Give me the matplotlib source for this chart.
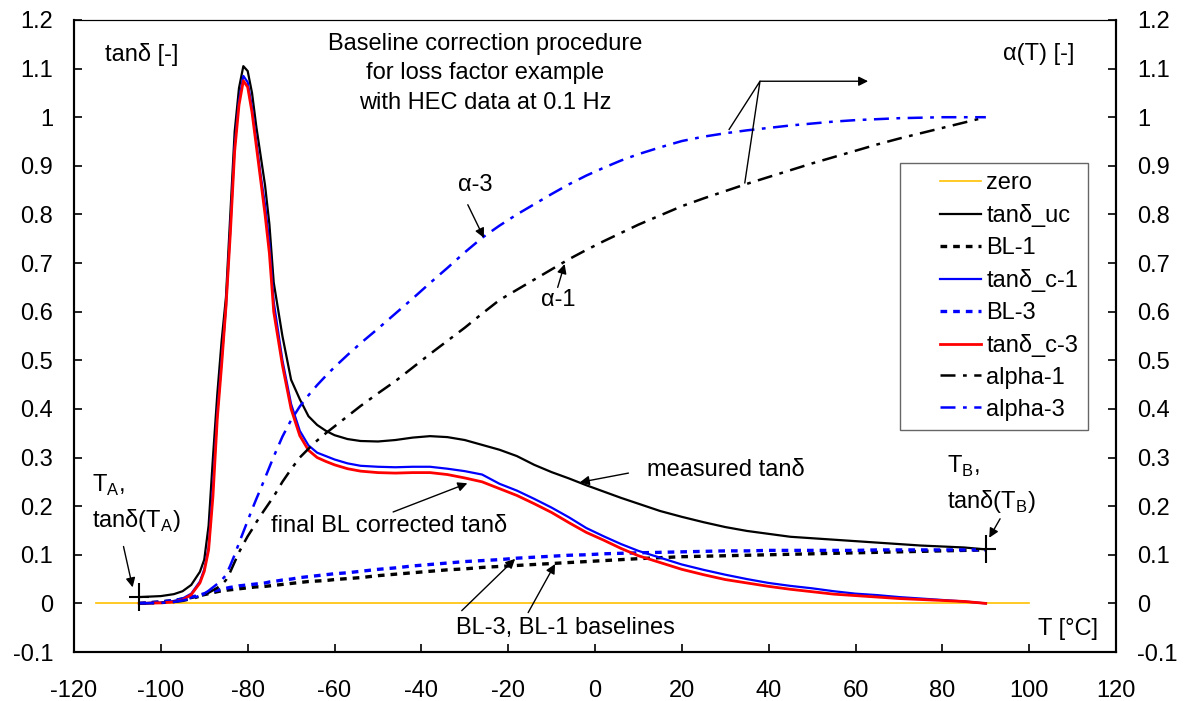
import numpy as np
import matplotlib.pyplot as plt
from matplotlib.lines import Line2D
from matplotlib.legend_handler import HandlerLine2D
from matplotlib.ticker import MultipleLocator, FuncFormatter

plt.rcParams['font.family'] = ['Liberation Sans', 'DejaVu Sans']
plt.rcParams['axes.unicode_minus'] = False
FS = 17

# temperature grid [°C]
T = [-105, -100, -97, -95, -93, -91, -90, -89, -88, -87, -86, -85, -84, -83,
     -82, -81, -80, -79, -78, -77, -76, -75, -74, -72, -70, -68, -66, -64,
     -62, -60, -57, -54, -50, -46, -42, -38, -34, -30, -26, -22, -18, -14,
     -10, -6, -2, 2, 6, 10, 15, 20, 25, 30, 35, 40, 45, 50, 55, 60, 65, 70,
     75, 80, 85, 90]

# uncorrected loss factor
tand_uc = [0.013, 0.015, 0.019, 0.025, 0.038, 0.065, 0.09, 0.16, 0.30, 0.43,
           0.54, 0.63, 0.80, 0.97, 1.06, 1.105, 1.095, 1.05, 0.98, 0.92, 0.86,
           0.78, 0.66, 0.55, 0.46, 0.42, 0.385, 0.367, 0.355, 0.346, 0.338,
           0.334, 0.333, 0.336, 0.341, 0.344, 0.342, 0.336, 0.326, 0.316,
           0.303, 0.285, 0.270, 0.257, 0.243, 0.230, 0.217, 0.205, 0.190,
           0.178, 0.167, 0.157, 0.149, 0.143, 0.137, 0.134, 0.131, 0.128,
           0.125, 0.122, 0.119, 0.117, 0.115, 0.111]

# baselines
bl_1 = [0.0, 0.003, 0.006, 0.009, 0.012, 0.016, 0.018, 0.020, 0.022, 0.024,
        0.026, 0.027, 0.028, 0.029, 0.030, 0.031, 0.032, 0.033, 0.034, 0.034,
        0.035, 0.036, 0.037, 0.039, 0.041, 0.043, 0.045, 0.046, 0.047, 0.049,
        0.051, 0.053, 0.057, 0.060, 0.063, 0.066, 0.069, 0.071, 0.074, 0.076,
        0.078, 0.080, 0.082, 0.084, 0.086, 0.088, 0.090, 0.092, 0.094, 0.096,
        0.097, 0.098, 0.099, 0.100, 0.101, 0.102, 0.103, 0.104, 0.105, 0.106,
        0.107, 0.108, 0.109, 0.110]
bl_3 = [0.0, 0.003, 0.006, 0.009, 0.013, 0.017, 0.020, 0.022, 0.025, 0.027,
        0.029, 0.031, 0.033, 0.034, 0.036, 0.037, 0.038, 0.039, 0.040, 0.041,
        0.042, 0.044, 0.045, 0.048, 0.050, 0.053, 0.055, 0.057, 0.059, 0.061,
        0.063, 0.066, 0.070, 0.073, 0.077, 0.080, 0.083, 0.086, 0.088, 0.090,
        0.093, 0.095, 0.097, 0.099, 0.100, 0.102, 0.103, 0.104, 0.105, 0.106,
        0.107, 0.108, 0.108, 0.109, 0.109, 0.109, 0.109, 0.109, 0.110, 0.110,
        0.110, 0.110, 0.110, 0.110]

# corrected loss factor
tand_c1 = [0.0, 0.002, 0.005, 0.010, 0.020, 0.045, 0.070, 0.115, 0.24, 0.39,
           0.50, 0.61, 0.77, 0.94, 1.035, 1.085, 1.072, 1.02, 0.95, 0.88,
           0.82, 0.74, 0.62, 0.50, 0.41, 0.355, 0.325, 0.310, 0.303, 0.296,
           0.288, 0.283, 0.281, 0.280, 0.281, 0.281, 0.277, 0.272, 0.265,
           0.246, 0.232, 0.215, 0.197, 0.177, 0.155, 0.138, 0.122, 0.108,
           0.094, 0.080, 0.069, 0.059, 0.050, 0.042, 0.036, 0.031, 0.025,
           0.020, 0.017, 0.013, 0.010, 0.007, 0.004, 0.0]
tand_c3 = [0.0, 0.001, 0.003, 0.007, 0.018, 0.042, 0.066, 0.11, 0.22, 0.38,
           0.49, 0.61, 0.76, 0.93, 1.025, 1.075, 1.062, 1.01, 0.94, 0.87,
           0.80, 0.72, 0.60, 0.49, 0.40, 0.345, 0.315, 0.300, 0.292, 0.285,
           0.277, 0.272, 0.269, 0.268, 0.269, 0.269, 0.265, 0.258, 0.250,
           0.236, 0.222, 0.205, 0.187, 0.166, 0.146, 0.130, 0.113, 0.098,
           0.084, 0.070, 0.059, 0.049, 0.042, 0.035, 0.029, 0.024, 0.019,
           0.016, 0.013, 0.010, 0.008, 0.006, 0.004, 0.0]

# weighting functions alpha(T)
alpha_1 = [0.0, 0.001, 0.003, 0.005, 0.009, 0.014, 0.018, 0.022, 0.027, 0.032,
           0.038, 0.048, 0.065, 0.085, 0.105, 0.122, 0.138, 0.152, 0.167,
           0.181, 0.194, 0.207, 0.220, 0.250, 0.276, 0.300, 0.318, 0.335,
           0.350, 0.364, 0.385, 0.406, 0.432, 0.457, 0.485, 0.513, 0.540,
           0.567, 0.596, 0.624, 0.645, 0.666, 0.687, 0.708, 0.727, 0.745,
           0.762, 0.779, 0.798, 0.817, 0.833, 0.848, 0.863, 0.877, 0.891,
           0.905, 0.918, 0.931, 0.944, 0.956, 0.967, 0.978, 0.989, 1.0]
alpha_3 = [0.0, 0.001, 0.003, 0.006, 0.010, 0.016, 0.020, 0.026, 0.033, 0.040,
           0.048, 0.058, 0.078, 0.100, 0.124, 0.147, 0.170, 0.193, 0.215,
           0.236, 0.258, 0.280, 0.302, 0.343, 0.377, 0.405, 0.428, 0.449,
           0.468, 0.486, 0.511, 0.535, 0.565, 0.596, 0.627, 0.659, 0.690,
           0.722, 0.752, 0.777, 0.800, 0.821, 0.842, 0.862, 0.880, 0.896,
           0.911, 0.924, 0.938, 0.951, 0.960, 0.967, 0.973, 0.978, 0.983,
           0.987, 0.991, 0.994, 0.996, 0.998, 0.999, 1.0, 1.0, 1.0]

zero_T = [-115, 100]
zero_val = [0, 0]

# integration limits
T_A, tand_A = -105, 0.013
T_B, tand_B = 90, 0.111

fig = plt.figure(figsize=(11.88, 7.01), dpi=100)
ax = fig.add_axes([0.0623, 0.0699, 0.8771, 0.9016])

ax.plot(zero_T, zero_val, color='#FFC000', lw=1.2, label='zero')
ax.plot(T, tand_uc, color='black', lw=1.6, label='tanδ_uc')
ax.plot(T, bl_1, color='black', lw=2.4, dashes=(2, 1.8), label='BL-1')
ax.plot(T, tand_c1, color='#0000FF', lw=1.6, label='tanδ_c-1')
ax.plot(T, bl_3, color='#0000FF', lw=2.4, dashes=(2, 1.8), label='BL-3')
ax.plot(T, tand_c3, color='#FF0000', lw=2.0, label='tanδ_c-3')
ax.plot(T, alpha_1, color='black', lw=1.8, dashes=(6, 3, 1.5, 3), label='alpha-1')
ax.plot(T, alpha_3, color='#0000FF', lw=1.8, dashes=(6, 3, 1.5, 3), label='alpha-3')

# T_A / T_B crosses
for tx, ty in [(T_A, tand_A), (T_B, tand_B)]:
    ax.plot(tx, ty, marker='|', ms=20, mew=1.5, color='black')
    ax.plot(tx, ty, marker='_', ms=14, mew=1.5, color='black')

ax.set_xlim(-120, 120)
ax.set_ylim(-0.1, 1.2)
ax.xaxis.set_major_locator(MultipleLocator(20))
ax.yaxis.set_major_locator(MultipleLocator(0.1))
fmt = FuncFormatter(lambda v, p: f'{round(v, 1) + 0:g}')
ax.yaxis.set_major_formatter(fmt)

ax2 = ax.twinx()
ax2.set_ylim(-0.1, 1.2)
ax2.yaxis.set_major_locator(MultipleLocator(0.1))
ax2.yaxis.set_major_formatter(fmt)

for a in (ax, ax2):
    for s in ('left', 'right', 'bottom'):
        a.spines[s].set_linewidth(1.5)
    a.spines['top'].set_linewidth(0.8)
ax.tick_params(axis='both', direction='in', length=6, width=1.2, labelsize=FS)
ax.tick_params(axis='x', pad=20)
ax.tick_params(axis='y', pad=15)
ax2.tick_params(axis='y', direction='in', length=6, width=1.2, labelsize=FS, pad=15)

leg = ax.legend(loc='upper left', bbox_to_anchor=(0.793, 0.774), borderaxespad=0,
                fontsize=FS, frameon=True, fancybox=False, handlelength=3.0,
                handletextpad=0.25, labelspacing=0.42, borderpad=0.4,
                handler_map={Line2D: HandlerLine2D(xpad=1.3)})
leg.get_frame().set_edgecolor('#404040')
leg.get_frame().set_linewidth(1.0)

ax.text(-112.9, 1.13, 'tanδ [-]', fontsize=FS, va='center', ha='left')
ax.text(94.0, 1.13, 'α(T) [-]', fontsize=FS, va='center', ha='left')
ax.text(-25.3, 1.09, 'Baseline correction procedure\nfor loss factor example\nwith HEC data at 0.1 Hz',
        fontsize=FS, ha='center', va='center', linespacing=1.42)
ax.text(109, -0.053, 'T [°C]', fontsize=FS, ha='center', va='center')

arrow = dict(arrowstyle='-|>', color='black', lw=1.0, mutation_scale=14,
             shrinkA=0, shrinkB=0)
ax.annotate('', xy=(-25.6, 0.752), xytext=(-29.3, 0.82), arrowprops=arrow)
ax.text(-27.6, 0.861, 'α-3', fontsize=FS, ha='center', va='center')
ax.annotate('', xy=(-7.0, 0.698), xytext=(-8.6, 0.65), arrowprops=arrow)
ax.text(-8.5, 0.625, 'α-1', fontsize=FS, ha='center', va='center')

# both alpha curves lead to one label arrow
ax.plot([30.9, 38.0, 34.5], [0.975, 1.074, 0.865], color='black', lw=1.0)
ax.annotate('', xy=(62.9, 1.074), xytext=(38.0, 1.074), arrowprops=arrow)

ax.annotate('', xy=(-3.5, 0.249), xytext=(7.7, 0.268), arrowprops=arrow)
ax.text(30.2, 0.274, 'measured tanδ', fontsize=FS, ha='center', va='center')
ax.annotate('', xy=(-29.4, 0.247), xytext=(-46.5, 0.188), arrowprops=arrow)
ax.text(-47.5, 0.16, 'final BL corrected tanδ', fontsize=FS, ha='center', va='center')

ax.annotate('', xy=(-18.4, 0.0915), xytext=(-30.7, -0.015), arrowprops=arrow)
ax.annotate('', xy=(-9.2, 0.081), xytext=(-15.4, -0.019), arrowprops=arrow)
ax.text(-6.9, -0.05, 'BL-3, BL-1 baselines', fontsize=FS, ha='center', va='center')

ax.text(-115.9, 0.205, 'T$_\\mathregular{A}$,\ntanδ(T$_\\mathregular{A}$)', fontsize=FS,
        ha='left', va='center', linespacing=1.45)
ax.annotate('', xy=(-106.5, 0.033), xytext=(-108.6, 0.117), arrowprops=arrow)
ax.text(81.1, 0.245, 'T$_\\mathregular{B}$,\ntanδ(T$_\\mathregular{B}$)', fontsize=FS,
        ha='left', va='center', linespacing=1.45)
ax.annotate('', xy=(90.8, 0.135), xytext=(93.3, 0.174), arrowprops=arrow)

fig.savefig('out.png', dpi=100)
